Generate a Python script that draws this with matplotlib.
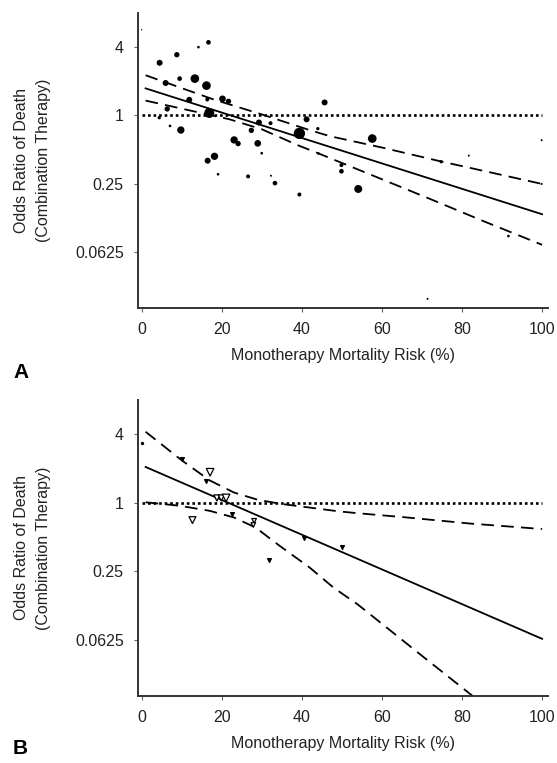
import matplotlib
matplotlib.use('Agg')
import matplotlib.pyplot as plt
import numpy as np

plt.rcParams['font.family'] = ['Liberation Sans', 'DejaVu Sans']

# ---- panel A data (monotherapy mortality %, odds ratio, study weight) ----
a_x = [0, 16.7, 14.2, 8.8, 4.5, 9.5, 13.3, 16.2, 6.0, 11.9, 16.4, 20.2, 21.7, 6.4,
       16.9, 4.4, 7.1, 9.8, 29.3, 32.2, 27.4, 23.1, 24.1, 29.0, 30.0, 18.2, 16.5,
       19.1, 26.6, 32.3, 33.3, 39.4, 39.4, 41.2, 44.0, 45.7, 44.2, 57.6, 49.9, 49.9,
       54.1, 74.8, 81.7, 99.9, 99.9, 91.6, 71.4]
a_or = [5.70, 4.41, 4.0, 3.43, 2.91, 2.11, 2.11, 1.83, 1.93, 1.37, 1.38, 1.40, 1.33, 1.14,
        1.05, 0.954, 0.807, 0.742, 0.865, 0.853, 0.737, 0.607, 0.563, 0.566, 0.463, 0.435, 0.398,
        0.302, 0.289, 0.293, 0.252, 0.200, 0.693, 0.922, 0.763, 1.30, 0.460, 0.624, 0.364, 0.321,
        0.224, 0.390, 0.441, 0.603, 0.248, 0.086, 0.024]
a_wt = [2, 7, 4, 8, 9, 7, 13, 13, 9, 9, 6, 10, 8, 8,
        15, 5, 4, 11, 9, 6, 8, 11, 8, 10, 4, 11, 9,
        4, 6, 3, 7, 6, 17, 9, 5, 9, 4, 13, 6, 7,
        12, 5, 3, 3, 3, 4, 3]

a_fit_x = [1, 100]
a_fit_or = [1.73, 0.134]
a_up_x = [1, 18, 30, 42, 47, 60, 75, 89, 100]
a_up_or = [2.26, 1.38, 1.02, 0.740, 0.655, 0.520, 0.390, 0.303, 0.248]
a_lo_x = [1, 22, 30, 39, 44, 60, 72, 86, 100]
a_lo_or = [1.35, 0.922, 0.754, 0.545, 0.464, 0.273, 0.183, 0.114, 0.072]

# ---- panel B data ----
b_small_x = [10.1, 16.0, 22.7, 40.5, 50.0, 31.8]
b_small_or = [2.40, 1.54, 0.796, 0.493, 0.409, 0.316]
b_dot_x = [0]
b_dot_or = [3.32]
b_open_x = [17.1, 18.8, 19.9, 21.1, 12.7, 28.1, 27.9]
b_open_or = [1.85, 1.10, 1.10, 1.10, 0.702, 0.692, 0.637]
b_open_wt = [10, 8, 8, 10, 9, 6, 6]

b_fit_x = [1, 100]
b_fit_or = [2.06, 0.0634]
b_up_x = [1, 10, 17, 23, 29, 35, 43, 49, 54, 66, 82, 100]
b_up_or = [4.20, 2.36, 1.57, 1.23, 1.06, 0.973, 0.895, 0.840, 0.807, 0.742, 0.655, 0.586]
b_lo_x = [1, 9.5, 17, 23, 28.5, 34, 42, 48, 54, 70, 83]
b_lo_or = [1.007, 0.939, 0.847, 0.742, 0.603, 0.429, 0.268, 0.178, 0.127, 0.045, 0.0195]

yticks = [4, 1, 0.25, 0.0625]
ytick_labels = ['4', '1', '0.25', '0.0625']
xticks = [0, 20, 40, 60, 80, 100]
xlab = 'Monotherapy Mortality Risk (%)'
ylab = 'Odds Ratio of Death\n(Combination Therapy)'

fig = plt.figure(figsize=(5.57, 7.63), dpi=100)
axA = fig.add_axes([0.247, 0.5963, 0.737, 0.3866])
axB = fig.add_axes([0.247, 0.0878, 0.737, 0.388])


def style(ax, fit_x, fit_or, up_x, up_or, lo_x, lo_or):
    ax.set_yscale('log', base=2)
    ax.set_ylim(2 ** -5.65, 2 ** 3.0)
    ax.set_xlim(-1, 101.5)
    ax.plot([0, 100], [1, 1], color='black', lw=1.9, linestyle=(0, (1, 1.1)))
    ax.plot(fit_x, fit_or, color='black', lw=1.3)
    ax.plot(up_x, up_or, color='black', lw=1.3, dashes=(7, 4))
    ax.plot(lo_x, lo_or, color='black', lw=1.3, dashes=(7, 4))
    ax.set_yticks(yticks)
    ax.set_yticklabels(ytick_labels)
    ax.yaxis.set_minor_locator(matplotlib.ticker.NullLocator())
    ax.set_xticks(xticks)
    for s in ['top', 'right']:
        ax.spines[s].set_visible(False)
    for s in ['left', 'bottom']:
        ax.spines[s].set_linewidth(1.4)
        ax.spines[s].set_color('#333333')
    ax.tick_params(length=3, width=0.8, color='#666666', labelsize=11.5,
                   labelcolor='#222222', pad=7)
    ax.set_xlabel(xlab, fontsize=11.5, color='#222222', labelpad=8)
    ax.text(-0.2564, 0.5, ylab, transform=ax.transAxes, rotation=90,
            ha='center', va='center', fontsize=11.5, color='#222222',
            multialignment='center', linespacing=1.6)


style(axA, a_fit_x, a_fit_or, a_up_x, a_up_or, a_lo_x, a_lo_or)
axA.scatter(a_x, a_or, s=[0.23 * w * w for w in a_wt], color='black',
            edgecolors='none', zorder=3, clip_on=False)

style(axB, b_fit_x, b_fit_or, b_up_x, b_up_or, b_lo_x, b_lo_or)
axB.scatter(b_open_x, b_open_or, s=[0.3 * w * w for w in b_open_wt], marker='v',
            facecolors='white', edgecolors='black', linewidths=0.9, zorder=3)
axB.scatter(b_small_x, b_small_or, s=7, marker='v', color='black', zorder=4)
axB.scatter(b_dot_x, b_dot_or, s=2, color='black', zorder=4, clip_on=False)

fig.text(13 / 557, 1 - 372 / 763, 'A', fontsize=15, fontweight='bold', ha='left', va='center')
fig.text(13 / 557, 1 - 748 / 763, 'B', fontsize=15, fontweight='bold', ha='left', va='center')

fig.savefig('out.png', dpi=100)
